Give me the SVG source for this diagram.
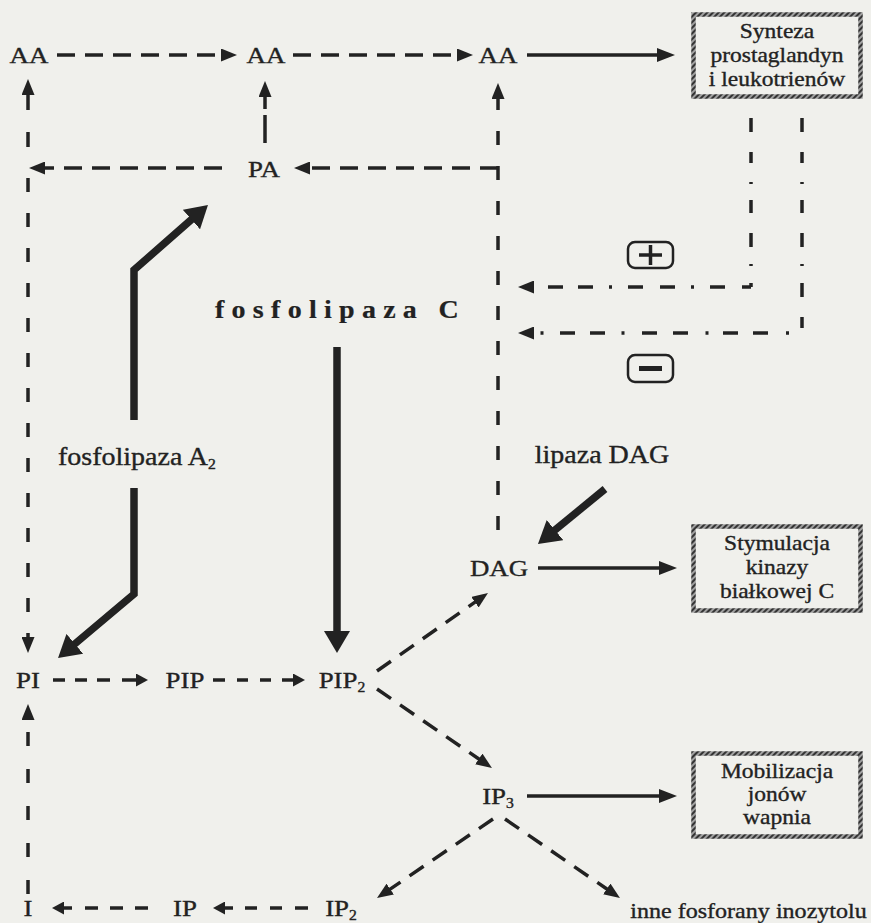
<svg xmlns="http://www.w3.org/2000/svg" width="871" height="923" viewBox="0 0 871 923">
<defs>
<style>
.t{font-family:"Liberation Serif","Times New Roman",serif;fill:#222;stroke:#222;stroke-width:0.35}
.n{font-size:24px;text-anchor:middle}
.bx{font-size:21px;text-anchor:middle}
.en{font-size:25px}
.fc{font-size:25px;font-weight:bold;letter-spacing:6.5px;stroke-width:0.2}
.d{fill:none;stroke:#222;stroke-width:3.5}
.s{fill:none;stroke:#222;stroke-width:3.5}
.bold{fill:none;stroke:#222;stroke-width:7.5;stroke-linejoin:miter}
.box{fill:none;stroke:url(#rope);stroke-width:4.5}
.pm{fill:none;stroke:#222;stroke-width:2.5}
</style>
<pattern id="rope" width="4" height="4" patternUnits="userSpaceOnUse" patternTransform="rotate(45)"><rect width="4" height="4" fill="#a0a0a0"/><rect width="2" height="4" fill="#333"/></pattern>
<marker id="ah" viewBox="0 0 16 13" refX="1" refY="6.5" markerWidth="16" markerHeight="13" markerUnits="userSpaceOnUse" orient="auto"><path d="M0,0L16,6.5L0,13z" fill="#222"/></marker>
<marker id="ahs" viewBox="0 0 18 14" refX="1" refY="7" markerWidth="18" markerHeight="14" markerUnits="userSpaceOnUse" orient="auto"><path d="M0,0L18,7L0,14z" fill="#222"/></marker>
<marker id="ahm" viewBox="0 0 12 13" refX="1" refY="6.5" markerWidth="12" markerHeight="13" markerUnits="userSpaceOnUse" orient="auto"><path d="M0,0L12,6.5L0,13z" fill="#222"/></marker>
<marker id="ahb" viewBox="0 0 22 26" refX="1" refY="13" markerWidth="22" markerHeight="26" markerUnits="userSpaceOnUse" orient="auto"><path d="M0,0L22,13L0,26z" fill="#222"/></marker>
</defs>
<rect width="871" height="923" fill="#f0f0ec"/>

<g id="connectors">
  <path class="d" d="M57,55H222" stroke-dasharray="18 10" marker-end="url(#ah)"/>
  <path class="d" d="M293,55H458" stroke-dasharray="18 10" marker-end="url(#ah)"/>
  <path class="s" d="M527,55H658" marker-end="url(#ahs)"/>
  <path class="d" d="M222,168H44" stroke-dasharray="18 10" marker-end="url(#ah)"/>
  <path class="d" d="M498,168H309" stroke-dasharray="18 10" marker-end="url(#ah)"/>
  <path class="d" d="M265,143V96" stroke-dasharray="28 6 20 100" marker-end="url(#ah)"/>
  <path class="d" d="M28,168V94" stroke-dasharray="0 21 15 22 17 100" marker-end="url(#ah)"/>
  <path class="d" d="M28,168V638" stroke-dasharray="14 21" stroke-dashoffset="25" marker-end="url(#ah)"/>
  <path class="d" d="M28,894V719" stroke-dasharray="14 23" marker-end="url(#ah)"/>
  <path class="d" d="M498,541V98" stroke-dasharray="14 21" stroke-dashoffset="24" marker-end="url(#ah)"/>
  <path class="d" d="M751,118V287" stroke-dasharray="14 20 11 19 2 16 13 20 14 17 2 17 4 100"/>
  <path class="d" d="M751,287H533" stroke-dasharray="9 17 15 16 3 16 15 17 15 16 3 16 15 15 15 14" marker-end="url(#ah)"/>
  <path class="d" d="M802,118V328" stroke-dasharray="14 20 11 19 2 16 13 20 14 17 2 17 14 20 11 100"/>
  <path class="d" d="M802,333H533" stroke-dasharray="0 13 3 18 15 15 15 14.5 3 17.5 15 16 15 17.5 3 16.5 15 15 15 16.5 3 7.5" marker-end="url(#ah)"/>
  <path class="bold" d="M134,420V270L192.2,218.9" marker-end="url(#ahb)"/>
  <path class="bold" d="M134,488V594L74.1,644.5" marker-end="url(#ahb)"/>
  <path class="bold" d="M337,347V632" marker-end="url(#ahb)"/>
  <path class="bold" d="M605,489L554.2,530.7" marker-end="url(#ahb)"/>
  <path class="s" d="M538,568H660" marker-end="url(#ahs)"/>
  <path class="s" d="M527,796H660" marker-end="url(#ahs)"/>
  <path class="d" d="M377,671L475.7,601.6" stroke-dasharray="17 11" marker-end="url(#ah)"/>
  <path class="d" d="M377,689L479.6,759.5" stroke-dasharray="17 11" marker-end="url(#ah)"/>
  <path class="d" d="M493,819L389.4,889.6" stroke-dasharray="17 11" marker-end="url(#ah)"/>
  <path class="d" d="M505,819L607.6,889.5" stroke-dasharray="17 11" marker-end="url(#ah)"/>
  <path class="d" d="M53,680H137" stroke-dasharray="12 10 12 10 13 12 15 100" marker-end="url(#ahm)"/>
  <path class="d" d="M213,680H294" stroke-dasharray="12 12 11 12 11 11 12 100" marker-end="url(#ahm)"/>
  <path class="d" d="M308,908H224" stroke-dasharray="13 13 12 13 12 12 9 100" marker-end="url(#ahm)"/>
  <path class="d" d="M148,908H63" stroke-dasharray="13 12 13 12 13 13 9 100" marker-end="url(#ahm)"/>
</g>

<g id="n-AA1"><text class="t n" transform="translate(29,63) scale(1.12,1)">AA</text></g>
<g id="n-AA2"><text class="t n" transform="translate(266,63) scale(1.12,1)">AA</text></g>
<g id="n-AA3"><text class="t n" transform="translate(498,63) scale(1.12,1)">AA</text></g>
<g id="n-PA"><text class="t n" transform="translate(264,177) scale(1.12,1)">PA</text></g>
<g id="n-PI"><text class="t n" transform="translate(28,688) scale(1.12,1)">PI</text></g>
<g id="n-PIP"><text class="t n" transform="translate(185,688) scale(1.12,1)">PIP</text></g>
<g id="n-PIP2"><text class="t n" transform="translate(342,688) scale(1.12,1)">PIP<tspan font-size="14" dy="4">2</tspan></text></g>
<g id="n-DAG"><text class="t n" transform="translate(499,576) scale(1.12,1)">DAG</text></g>
<g id="n-IP3"><text class="t n" transform="translate(498,804) scale(1.12,1)">IP<tspan font-size="14" dy="4">3</tspan></text></g>
<g id="n-I"><text class="t n" transform="translate(28,916) scale(1.12,1)">I</text></g>
<g id="n-IP"><text class="t n" transform="translate(185,916) scale(1.12,1)">IP</text></g>
<g id="n-IP2"><text class="t n" transform="translate(341,916) scale(1.12,1)">IP<tspan font-size="14" dy="4">2</tspan></text></g>
<g id="n-inne"><text class="t n" style="font-size:21.5px" transform="translate(748.5,918) scale(1.12,1)">inne fosforany inozytolu</text></g>

<g id="e-pla2"><text class="t en" transform="translate(58,465) scale(1.12,1)">fosfolipaza A<tspan font-size="14" dy="4">2</tspan></text></g>
<g id="e-plc"><text class="t fc" transform="translate(215,318) scale(1.12,1)">fosfolipaza C</text></g>
<g id="e-dag"><text class="t en" text-anchor="middle" transform="translate(602,463) scale(1.12,1)">lipaza DAG</text></g>

<g id="b-synteza">
  <rect class="box" x="693.5" y="14.5" width="167" height="82"/>
  <text class="t bx" transform="translate(777,38) scale(1.12,1)">Synteza</text>
  <text class="t bx" transform="translate(777,62) scale(1.12,1)">prostaglandyn</text>
  <text class="t bx" transform="translate(777,86) scale(1.12,1)">i leukotrienów</text>
</g>
<g id="b-stymulacja">
  <rect class="box" x="693.5" y="526.5" width="167" height="84"/>
  <text class="t bx" transform="translate(777,550) scale(1.12,1)">Stymulacja</text>
  <text class="t bx" transform="translate(777,574) scale(1.12,1)">kinazy</text>
  <text class="t bx" transform="translate(777,598) scale(1.12,1)">białkowej C</text>
</g>
<g id="b-mobilizacja">
  <rect class="box" x="693.5" y="753.5" width="167" height="83"/>
  <text class="t bx" transform="translate(777,778) scale(1.12,1)">Mobilizacja</text>
  <text class="t bx" transform="translate(777,801) scale(1.12,1)">jonów</text>
  <text class="t bx" transform="translate(777,824) scale(1.12,1)">wapnia</text>
</g>

<g id="plus">
  <rect class="pm" x="628" y="242" width="45" height="26" rx="7"/>
  <path d="M639,255H662M650.5,245V265" stroke="#222" stroke-width="3.5" fill="none"/>
</g>
<g id="minus">
  <rect class="pm" x="628" y="355" width="45" height="27" rx="7"/>
  <path d="M639,368.5H662" stroke="#222" stroke-width="5" fill="none"/>
</g>
</svg>
